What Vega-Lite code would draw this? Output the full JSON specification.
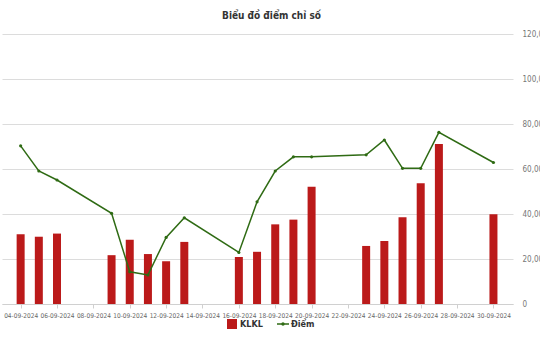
{
  "$schema": "https://vega.github.io/schema/vega-lite/v6.json",
  "autosize": {"type": "none"},
  "padding": {"left": 2, "top": 34, "right": 27, "bottom": 56},
  "width": 511,
  "height": 270,
  "background": "white",
  "title": {
    "text": "Biểu đồ điểm chỉ số",
    "font": "DejaVu Sans Condensed, sans-serif",
    "fontSize": 10,
    "fontWeight": "bold",
    "color": "#333333",
    "anchor": "middle",
    "dx": 14,
    "offset": 9
  },
  "config": {
    "view": {"stroke": null},
    "font": "DejaVu Sans Condensed, sans-serif"
  },
  "data": {
    "values": [
      {"date": "2024-09-04", "KLKL": 31.0, "Diem": 70.3},
      {"date": "2024-09-05", "KLKL": 29.9, "Diem": 59.1},
      {"date": "2024-09-06", "KLKL": 31.3, "Diem": 55.1},
      {"date": "2024-09-09", "KLKL": 21.7, "Diem": 40.3},
      {"date": "2024-09-10", "KLKL": 28.6, "Diem": 14.3},
      {"date": "2024-09-11", "KLKL": 22.2, "Diem": 12.9},
      {"date": "2024-09-12", "KLKL": 19.0, "Diem": 29.6},
      {"date": "2024-09-13", "KLKL": 27.6, "Diem": 38.3},
      {"date": "2024-09-16", "KLKL": 20.9, "Diem": 22.9},
      {"date": "2024-09-17", "KLKL": 23.2, "Diem": 45.4},
      {"date": "2024-09-18", "KLKL": 35.4, "Diem": 59.1},
      {"date": "2024-09-19", "KLKL": 37.5, "Diem": 65.4},
      {"date": "2024-09-20", "KLKL": 52.1, "Diem": 65.4},
      {"date": "2024-09-23", "KLKL": 25.8, "Diem": 66.3},
      {"date": "2024-09-24", "KLKL": 28.0, "Diem": 72.9},
      {"date": "2024-09-25", "KLKL": 38.6, "Diem": 60.3},
      {"date": "2024-09-26", "KLKL": 53.7, "Diem": 60.3},
      {"date": "2024-09-27", "KLKL": 71.1, "Diem": 76.3},
      {"date": "2024-09-30", "KLKL": 39.9, "Diem": 62.9}
    ]
  },
  "encoding": {
    "x": {
      "field": "date",
      "type": "temporal",
      "scale": {"type": "utc", "domain": [1725343200000, 1727723520000]},
      "axis": {
        "title": null,
        "labelExpr": "utcFormat(datum.value, '%d-%m-%Y')",
        "values": [1725408000000, 1725580800000, 1725753600000, 1725926400000, 1726099200000, 1726272000000, 1726444800000, 1726617600000, 1726790400000, 1726963200000, 1727136000000, 1727308800000, 1727481600000, 1727654400000],
        "labelFontSize": 6.5,
        "labelColor": "#666666",
        "labelPadding": 4,
        "labelAngle": 0,
        "labelOverlap": false,
        "domainColor": "#d0d0d0",
        "tickColor": "#d0d0d0",
        "tickSize": 4,
        "grid": false
      }
    }
  },
  "layer": [
    {
      "mark": {"type": "bar", "width": 8},
      "encoding": {
        "y": {
          "field": "KLKL",
          "type": "quantitative",
          "scale": {"domain": [0, 120], "nice": false},
          "axis": {
            "orient": "right",
            "title": null,
            "values": [0, 20, 40, 60, 80, 100, 120],
            "labelExpr": "datum.value == 0 ? '0' : replace(format(datum.value, '.2f'), '.', ',')",
            "labelFontSize": 8,
            "labelColor": "#777777",
            "labelPadding": 9,
            "domain": false,
            "ticks": false,
            "gridColor": "#dcdcdc",
            "gridWidth": 1
          }
        },
        "color": {
          "datum": "KLKL",
          "type": "nominal",
          "scale": {"domain": ["KLKL", "Điểm"], "range": ["#bb1a1a", "#2f6b14"]},
          "legend": {
            "title": null,
            "orient": "none",
            "direction": "horizontal",
            "legendX": 225,
            "legendY": 285,
            "padding": 0,
            "symbolSize": 100,
            "symbolStrokeWidth": 0,
            "labelFontSize": 9,
            "labelColor": "#333333",
            "labelFontWeight": "bold",
            "labelOffset": 3,
            "columnPadding": 14,
            "encode": {
              "symbols": {
                "update": {
                  "shape": {"signal": "datum.value == 'KLKL' ? 'square' : 'M-1.2,-0.15H1.2V0.15H-1.2Z M0,-0.35A0.35,0.35 0 1,1 0,0.35A0.35,0.35 0 1,1 0,-0.35Z'"},
                  "fill": {"signal": "datum.value == 'KLKL' ? '#bb1a1a' : '#2f6b14'"},
                  "opacity": {"value": 1}
                }
              }
            }
          }
        }
      }
    },
    {
      "mark": {"type": "line", "color": "#2f6b14", "strokeWidth": 1.5},
      "encoding": {
        "y": {"field": "Diem", "type": "quantitative"}
      }
    },
    {
      "mark": {"type": "point", "filled": true, "opacity": 1, "size": 10, "shape": "circle"},
      "encoding": {
        "y": {"field": "Diem", "type": "quantitative"},
        "color": {"datum": "Điểm", "type": "nominal"}
      }
    }
  ],
  "resolve": {"scale": {"y": "shared"}}
}
